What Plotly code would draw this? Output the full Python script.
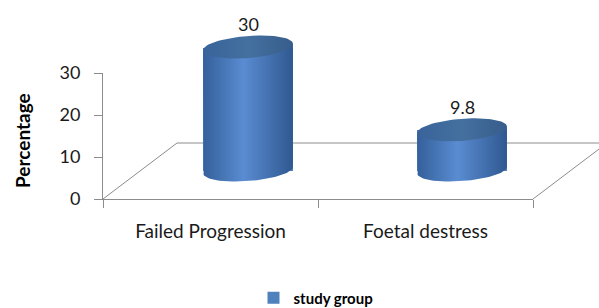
import numpy as np
import plotly.graph_objects as go

# ---- data ----
categories = ["Failed Progression", "Foetal destress"]
values = [30, 9.8]
series_name = "study group"
y_ticks = [0, 10, 20, 30]
y_title = "Percentage"

W, H = 599, 308
FONT = "Lato, 'Open Sans', sans-serif"
AXIS_COLOR = "#8c8c8c"

def px(x):
    return x / W

def py(y):
    return (H - y) / H

fig = go.Figure()

# invisible trace to anchor front axes
fig.add_trace(go.Scatter(x=[None], y=[None], xaxis="x", yaxis="y",
                         showlegend=False, hoverinfo="skip"))

# legend holder / base bars (covered by the cylinder drawing)
bar_w = 0.42
fig.add_trace(go.Bar(x=list(range(len(categories))), y=values, width=bar_w,
                     name=series_name, marker=dict(color="#4f81bd", line=dict(width=0)),
                     xaxis="x2", yaxis="y2", hoverinfo="skip"))

rx = bar_w / 2
ry = 2.7   # ellipse half-height in value units
s = 3.8    # perspective tilt of the ellipses
t = np.linspace(0, np.pi, 40)
tt = np.linspace(0, 2 * np.pi, 80)
for i, v in enumerate(values):
    c = i
    arc_x = c - rx * np.cos(t)
    arc_y = -ry * np.sin(t) + s * (arc_x - c)
    bx = [c - rx, c - rx] + list(arc_x) + [c + rx, c - rx]
    by = [v - s * rx, -s * rx] + list(arc_y) + [v + s * rx, v - s * rx]
    fig.add_trace(go.Scatter(
        x=bx, y=by, mode="lines", fill="toself", line=dict(width=0),
        fillgradient=dict(type="horizontal",
                          colorscale=[[0, "#34609a"], [0.45, "#5a8cd2"], [1, "#2f5890"]]),
        xaxis="x2", yaxis="y2", showlegend=False, hoverinfo="skip"))
    ex = c + rx * np.cos(tt)
    ey = v + ry * np.sin(tt) + s * (ex - c)
    fig.add_trace(go.Scatter(
        x=list(ex), y=list(ey),
        mode="lines", fill="toself", line=dict(width=0),
        fillgradient=dict(type="horizontal",
                          colorscale=[[0, "#39639a"], [0.5, "#44709f"], [1, "#375d8c"]]),
        xaxis="x2", yaxis="y2", showlegend=False, hoverinfo="skip"))
    fig.add_annotation(x=c, y=v, xref="x2", yref="y2", text=f"{v:g}",
                       showarrow=False, yshift=23,
                       font=dict(family=FONT, size=18, color="#1a1a1a"))

# floor (3-D perspective) lines
floor = [((103, 199), (177, 143)), ((177, 143), (620, 143)), ((533, 199), (607, 143))]
for (x0, y0), (x1, y1) in floor:
    fig.add_shape(type="line", xref="paper", yref="paper",
                  x0=px(x0), y0=py(y0), x1=px(x1), y1=py(y1),
                  line=dict(color=AXIS_COLOR, width=1), layer="below")

fig.add_annotation(x=px(22), y=py(141), xref="paper", yref="paper",
                   xanchor="center", yanchor="middle",
                   text=f"<b>{y_title}</b>", textangle=-90, showarrow=False,
                   font=dict(family=FONT, size=19, color="#000000"))

fig.update_layout(
    width=W, height=H,
    margin=dict(l=0, r=0, t=0, b=0, autoexpand=False),
    paper_bgcolor="white", plot_bgcolor="rgba(0,0,0,0)",
    font=dict(family=FONT, color="#1a1a1a"),
    showlegend=True,
    legend=dict(orientation="h", x=px(316), xanchor="center", y=py(298), yanchor="middle",
                font=dict(family=FONT, size=15, color="#000000", weight="bold"),
                itemwidth=30, bgcolor="rgba(0,0,0,0)"),
    xaxis=dict(domain=[px(103), px(533)], range=[-0.5, 1.5], anchor="y",
               tickmode="array", tickvals=list(range(len(categories))), ticktext=categories,
               ticks="", showline=True, linecolor=AXIS_COLOR, linewidth=1,
               showgrid=False, zeroline=False, ticklabelstandoff=15,
               tickfont=dict(family=FONT, size=19, color="#1a1a1a"),
               minor=dict(tickmode="array", tickvals=[-0.5, 0.5, 1.5], ticks="outside",
                          ticklen=8, tickcolor=AXIS_COLOR, showgrid=False),
               fixedrange=True),
    yaxis=dict(domain=[py(199), py(73)], range=[0, 30], anchor="x",
               tickmode="array", tickvals=y_ticks, ticks="outside", ticklen=8,
               tickcolor=AXIS_COLOR, showline=True, linecolor=AXIS_COLOR, linewidth=1,
               showgrid=False, zeroline=False, ticklabelstandoff=10,
               tickfont=dict(family=FONT, size=18, color="#1a1a1a"), fixedrange=True),
    xaxis2=dict(domain=[px(141), px(569)], range=[-0.5, 1.5], anchor="y2",
                visible=False, fixedrange=True),
    yaxis2=dict(domain=[py(186.4), py(26.5)], range=[-4, 35], anchor="x2",
                visible=False, fixedrange=True),
    bargap=0,
)

fig.write_html("out.html", config={"displayModeBar": False},
               post_script="document.body.style.margin='0';document.documentElement.style.overflow='hidden';")
